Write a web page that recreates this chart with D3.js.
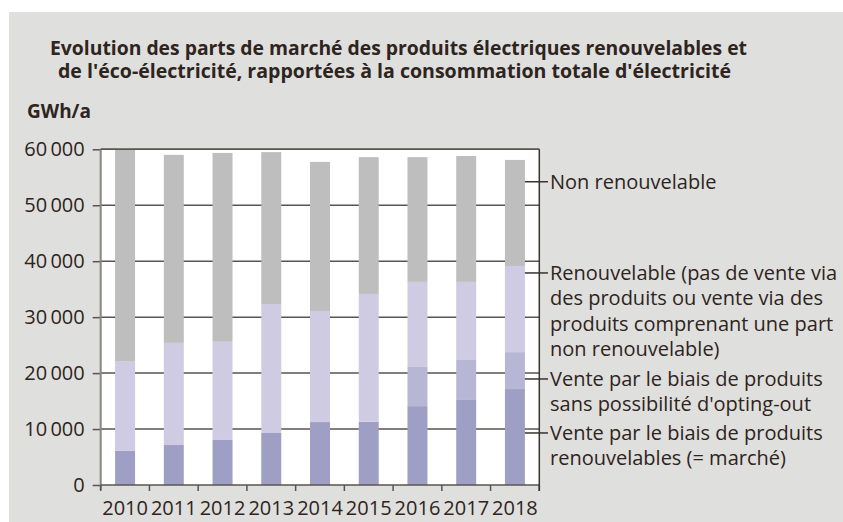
<!DOCTYPE html>
<html>
<head>
<meta charset="utf-8">
<script src="https://cdn.jsdelivr.net/npm/d3@7"></script>
<style>
    body { margin: 0; background: #ffffff; }
    text { font-family: "Open Sans", sans-serif; fill: #2e2420; }
</style>
</head>
<body>
<div id="chart"></div>
<script>
// chart values (GWh/a)
var years = ["2010", "2011", "2012", "2013", "2014", "2015", "2016", "2017", "2018"];
var market = [6100, 7150, 8050, 9300, 11250, 11300, 14100, 15200, 17150];
var optOut = [0, 0, 0, 0, 0, 0, 7000, 7150, 6600];
var renewOther = [16050, 18250, 17550, 23050, 19850, 22850, 15200, 13950, 15400];
var nonRenew = [37950, 33600, 33750, 27150, 26650, 24450, 22300, 22500, 18950];

var yTicks = [0, 10000, 20000, 30000, 40000, 50000, 60000];
var titleLines = [
    "Evolution des parts de marché des produits électriques renouvelables et",
    "de l'éco-électricité, rapportées à la consommation totale d'électricité"
];
var unitLabel = "GWh/a";

// legend: one entry per series (top to bottom), the value where its leader line sits
var legendKeys = ["nonRenew", "renewOther", "optOut", "market"];
var legendAnchor = [54200, 37900, 18950, 9300];
var legendText = [
    ["Non renouvelable"],
    ["Renouvelable (pas de vente via", "des produits ou vente via des", "produits comprenant une part", "non renouvelable)"],
    ["Vente par le biais de produits", "sans possibilité d'opting-out"],
    ["Vente par le biais de produits", "renouvelables (= marché)"]
];

var colors = {
    market: "#9f9fc5",
    optOut: "#b8b6d5",
    renewOther: "#cecbe2",
    nonRenew: "#bebebe"
};

var rows = years.map(function(y, i) {
    return {year: y, market: market[i], optOut: optOut[i], renewOther: renewOther[i], nonRenew: nonRenew[i]};
});

var W = 843, H = 522;
var fontSize = "20px";
var svg = d3.select("#chart").append("svg")
        .attr("width", W)
        .attr("height", H);

// grey panel
svg.append("rect")
        .attr("x", 9).attr("y", 12)
        .attr("width", W - 9).attr("height", H - 12)
        .attr("fill", "#dfdfdd");

// title
var titleX = [50, 58], titleW = [697, 673];
titleLines.forEach(function(t, i) {
    svg.append("text")
            .attr("x", titleX[i])
            .attr("y", 55 + i * 23)
            .attr("textLength", titleW[i])
            .attr("lengthAdjust", "spacingAndGlyphs")
            .style("font-size", "19.5px")
            .style("font-weight", "bold")
            .text(t);
});
svg.append("text")
        .attr("x", 27).attr("y", 118)
        .style("font-size", "19px")
        .style("font-weight", "bold")
        .text(unitLabel);

var plotL = 100.7, plotR = 539.3, plotT = 149.3, plotB = 485;

var x = d3.scaleBand()
        .domain(years)
        .range([plotL, plotR])
        .paddingInner(0.59)
        .paddingOuter(0.295);

var y = d3.scaleLinear()
        .domain([0, 60000])
        .range([plotB, plotT]);

// white plot area
svg.append("rect")
        .attr("x", plotL).attr("y", plotT)
        .attr("width", plotR - plotL).attr("height", plotB - plotT)
        .attr("fill", "#ffffff");

// gridlines (behind bars)
svg.append("g")
        .selectAll("line")
        .data(yTicks.filter(function(d) { return d > 0; }))
        .enter().append("line")
        .attr("x1", plotL).attr("x2", plotR)
        .attr("y1", function(d) { return y(d); })
        .attr("y2", function(d) { return y(d); })
        .attr("stroke", "#5b534f")
        .attr("stroke-width", 1.5);

// stacked bars
var stack = d3.stack().keys(["market", "optOut", "renewOther", "nonRenew"]);
var series = stack(rows);

svg.append("g")
        .selectAll("g")
        .data(series)
        .enter().append("g")
        .attr("fill", function(d) { return colors[d.key]; })
        .selectAll("rect")
        .data(function(d) { return d; })
        .enter().append("rect")
        .attr("x", function(d) { return x(d.data.year); })
        .attr("y", function(d) { return y(d[1]); })
        .attr("width", x.bandwidth())
        .attr("height", function(d) { return y(d[0]) - y(d[1]); });

// y axis
var fmt = d3.formatLocale({decimal: ",", thousands: "\u2009", grouping: [3], currency: ["", ""]}).format(",");
var yAxis = svg.append("g")
        .attr("transform", "translate(" + plotL + ",0)")
        .call(d3.axisLeft(y).tickValues(yTicks).tickFormat(fmt).tickSize(8).tickPadding(8));
yAxis.select(".domain").remove();
yAxis.selectAll(".tick line").attr("stroke", "#5b534f").attr("stroke-width", 1.5);
yAxis.selectAll(".tick text")
        .style("font-family", "'Open Sans', sans-serif")
        .style("font-size", fontSize)
        .attr("fill", "#2e2420");

svg.append("line")
        .attr("x1", plotL).attr("x2", plotL)
        .attr("y1", plotT).attr("y2", plotB + 5)
        .attr("stroke", "#8a8580").attr("stroke-width", 2);

// x axis: labels under the bars, ticks at band boundaries
var xAxis = svg.append("g")
        .attr("transform", "translate(0," + plotB + ")")
        .call(d3.axisBottom(x).tickSize(0).tickPadding(16));
xAxis.select(".domain").remove();
xAxis.selectAll(".tick text")
        .style("font-family", "'Open Sans', sans-serif")
        .style("font-size", fontSize)
        .attr("fill", "#2e2420");

svg.append("line")
        .attr("x1", plotL).attr("x2", plotR)
        .attr("y1", plotB).attr("y2", plotB)
        .attr("stroke", "#5b534f").attr("stroke-width", 1.5);

svg.append("g")
        .selectAll("line")
        .data(d3.range(years.length + 1))
        .enter().append("line")
        .attr("x1", function(i) { return plotL + i * x.step(); })
        .attr("x2", function(i) { return plotL + i * x.step(); })
        .attr("y1", plotB).attr("y2", plotB + 6)
        .attr("stroke", "#5b534f").attr("stroke-width", 1.5);

// top and right frame
svg.append("line")
        .attr("x1", plotL).attr("x2", plotR)
        .attr("y1", plotT).attr("y2", plotT)
        .attr("stroke", "#5b534f").attr("stroke-width", 1.5);
svg.append("line")
        .attr("x1", plotR).attr("x2", plotR)
        .attr("y1", plotT).attr("y2", plotB + 6)
        .attr("stroke", "#3a322e").attr("stroke-width", 1.5);

// legend with leader lines from the last bar
var lastYear = years[years.length - 1];
var leadX1 = x(lastYear) + x.bandwidth();
var leadX2 = 548;
var lineH = 25.3;

legendKeys.forEach(function(k, i) {
    var ly = y(legendAnchor[i]);
    svg.append("line")
            .attr("x1", leadX1).attr("x2", leadX2)
            .attr("y1", ly).attr("y2", ly)
            .attr("stroke", "#3a322e").attr("stroke-width", 1.5);
    var t = svg.append("text")
            .attr("x", 550)
            .attr("y", ly)
            .style("font-size", fontSize);
    legendText[i].forEach(function(s, j) {
        t.append("tspan")
                .attr("x", 550)
                .attr("y", ly + j * lineH)
                .attr("dy", "0.35em")
                .text(s);
    });
});
</script>
</body>
</html>
